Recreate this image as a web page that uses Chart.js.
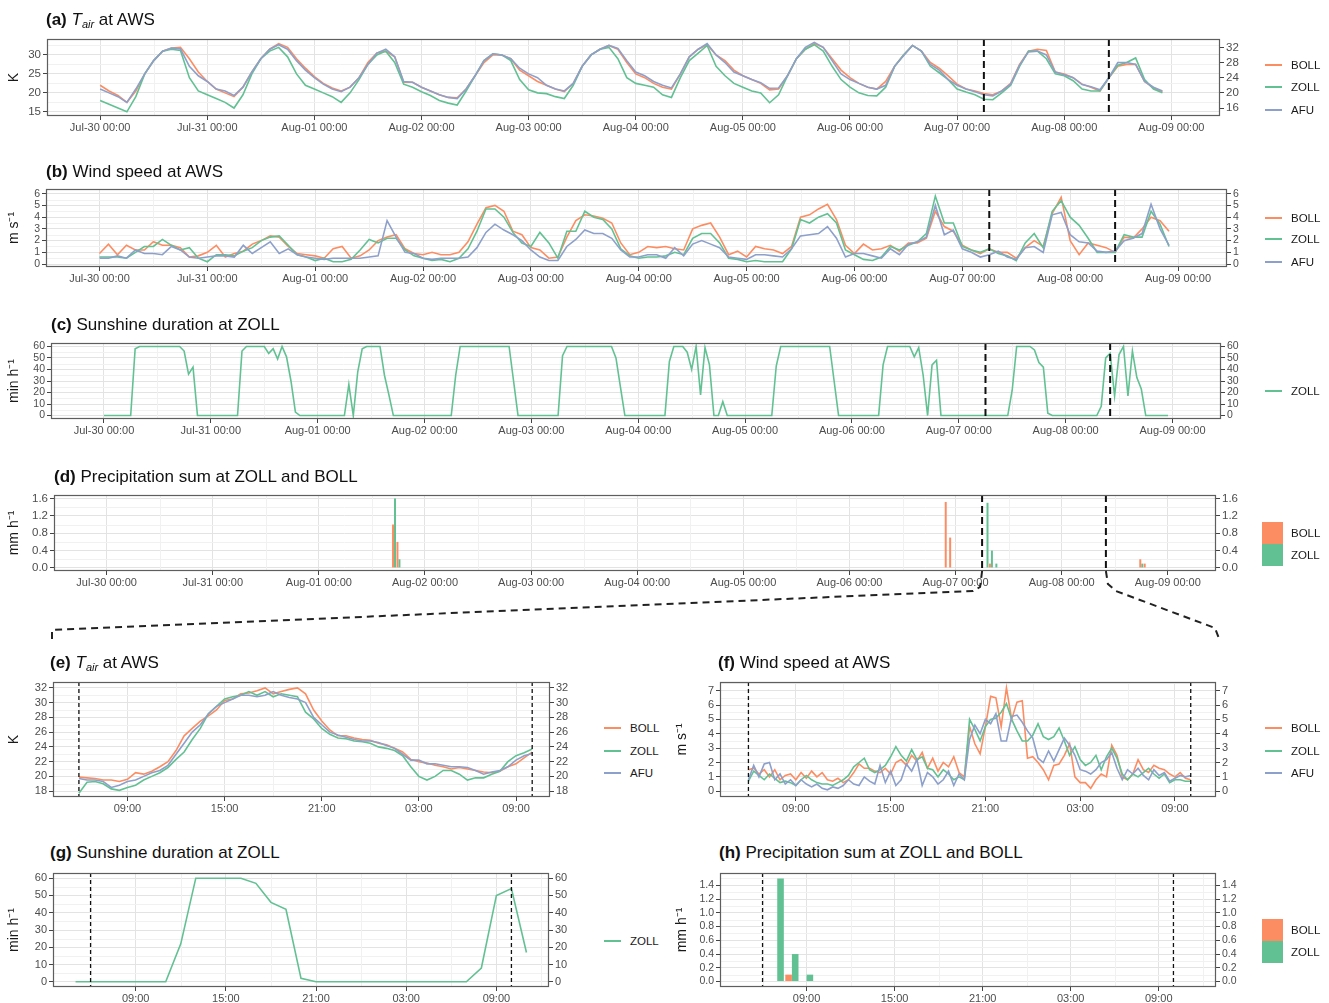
<!DOCTYPE html>
<html>
<head>
<meta charset="utf-8">
<script src="https://cdn.jsdelivr.net/npm/chart.js@4.4.1/dist/chart.umd.min.js"></script>
<style>
  body { margin: 0; background: #fff; font-family: "Liberation Sans", Arial, sans-serif; }
  #page { position: relative; width: 1329px; height: 1003px; overflow: hidden; background: #fff; }
  #page canvas { position: absolute; }
  .ttl { position: absolute; font-size: 17px; line-height: 20px; color: #111; white-space: nowrap; }
  .ttl sub { font-size: 11px; vertical-align: -3px; }
  .sw { position: absolute; }
  .lt { position: absolute; font-size: 11.5px; line-height: 16px; color: #1a1a1a; white-space: nowrap; }
</style>
</head>
<body>
<div id="page"></div>
<script>
// ---- data (top panels: hours since Jul-30 00:00) ----
const dayLabels = ['Jul-30 00:00', 'Jul-31 00:00', 'Aug-01 00:00', 'Aug-02 00:00', 'Aug-03 00:00',
  'Aug-04 00:00', 'Aug-05 00:00', 'Aug-06 00:00', 'Aug-07 00:00', 'Aug-08 00:00', 'Aug-09 00:00'];
const zoomLabels = ['09:00', '15:00', '21:00', '03:00', '09:00'];
const zoomStart = 198;   // Aug-07 06:00
const zoomEnd = 226;     // Aug-08 10:00

// 2-hourly air temperature
const tairBoll = [
  22,20.5,19.3,17.5,20.5,25,28.5,31,31.8,32,29,25.5,
  23,21,20,19,21.5,25.5,29,31.5,33,32,29,26.5,
  24.3,22.5,21.3,20.5,21.5,24,28,30.5,31,29.5,22.8,22.8,
  21.5,20.5,19.5,18.8,18.7,21,24.5,28,30,30,29,26,
  24.5,23,22,21,20.3,22.5,27,30,31.5,32.5,31.5,28,
  25,24,22.5,21.5,21,25,29.5,31.5,32.7,30,28.5,26,
  24.5,23.5,22.5,20.8,21,24.5,29,31.5,33,32,29,26,
  24,22.5,21.5,21,23,27,30,32.5,31,28,26.5,24.5,
  22.3,21,20.5,19.8,19.5,20.5,22.5,27.5,31,31.5,31.2,25.5,
  25,24,22.3,21.5,20.5,24,27,27.5,27.5,23,21.3,20.3];
const tairZoll = [
  18,17,16,15,19,25,28.5,31,31.5,31.2,24,20.5,
  19.5,18.5,17.5,16,19.5,25,29,31,32,29.5,25,22,
  21,20,19,17.5,20,23.5,27.5,30,31,28,22.3,21.5,
  20.3,19.3,18,17.3,16.8,20.5,24.5,28.5,30.3,30,28.5,23.5,
  20.8,20,19.8,19,18.5,22,27,30,31.5,32,29,24,
  22.5,22,21.5,19.5,18.8,24,28.5,30.5,32.5,27,24.5,22.5,
  21.5,20.5,20,17.4,19.5,24.5,29,31.5,32.7,31,27,23.5,
  21.5,20,19.3,19.2,21.5,27,30,32.5,31,27,25.3,23.5,
  21,20.2,19.5,18.3,18.2,20,22,27,31,31,29,25,
  24.5,23.2,21,20.5,20.5,24,27.3,28,29.2,23.5,21,20];
const tairAfu = [
  21,20,19,17.5,21,25,28.5,31,31.8,31.6,27,24.5,
  23,21,20.5,19.3,21.5,25.5,29,31.5,32.7,31.5,28.5,26,
  24,22.3,21,20.3,21.5,24,27.5,30.5,31.5,29.5,23,22.8,
  21.5,20.5,19.5,18.8,18.5,21,24.5,28.5,30.3,30,29,26.5,
  25,24,22,21,20.5,22.5,27,30,31.5,32.5,31.7,28.5,
  25.5,24.5,23,22,21.3,25,29.5,31.5,33,30,28,25.5,
  24.5,23.5,22.7,21.2,21.3,24.5,29,32,33.3,32,28.5,25,
  23.5,22.5,21.5,21,22,27,29.8,32.5,31,27.5,26,23.5,
  22,21,20.3,19.5,19.2,20.5,22.3,27.3,30.8,31,30,25.5,
  24.8,24,22.2,21.6,20.8,24,28,28,27.5,23,21.5,20.5];

// 2-hourly wind speed
const windBoll = [
  0.9,1.7,0.8,1.6,1.2,1.2,1.9,1.6,1.6,1.4,0.6,0.7,
  1.0,1.6,0.6,0.9,1.1,1.7,2.0,2.4,2.3,1.5,0.9,0.8,
  0.7,0.5,1.3,1.5,0.5,0.7,1.2,2.0,2.3,2.5,1.3,0.9,
  0.8,1.0,0.8,0.8,1.0,1.9,3.4,4.8,5.0,4.5,2.8,2.5,
  1.4,1.2,0.5,0.6,2.3,3.7,4.2,4.1,3.9,3.5,1.8,0.8,
  1.0,1.5,1.4,1.5,1.3,1.2,3.0,3.3,3.5,2.3,0.8,1.1,
  0.6,1.5,1.3,1.2,0.9,1.5,4.0,4.2,4.7,5.1,3.8,1.6,
  0.9,1.7,1.2,1.3,1.6,1.1,1.8,1.8,2.2,4.5,3.2,2.8,
  1.6,1.2,0.9,1.3,1.0,1.0,0.5,1.4,2.0,1.5,4.3,5.7,
  2.0,0.8,1.8,1.6,1.4,1.0,2.3,2.2,3.0,4.0,3.7,2.8];
const windZoll = [
  0.6,0.6,0.6,0.5,1.0,1.5,1.5,2.1,1.6,1.2,1.4,0.5,
  0.2,0.8,0.8,0.7,1.1,1.4,2.0,2.3,2.4,1.6,0.8,0.6,
  0.3,0.5,0.2,0.2,0.4,1.2,2.1,1.8,2.2,2.2,1.2,0.7,
  0.5,0.3,0.4,0.2,0.5,1.3,2.8,4.7,4.7,4.0,2.7,1.8,
  1.5,2.7,1.8,0.5,2.8,2.8,4.5,4.0,3.8,3.0,1.3,0.7,
  0.5,0.6,0.6,0.7,1.0,0.8,2.2,2.6,2.6,1.8,0.5,0.4,
  0.2,0.3,0.2,0.2,0.2,1.3,3.8,3.5,4.0,4.3,3.5,1.2,
  0.8,0.4,0.3,0.6,1.5,1.2,1.6,1.9,2.6,5.8,3.5,3.5,
  1.5,1.2,1.0,1.3,0.9,0.7,0.3,1.8,2.6,1.4,4.5,5.4,
  4.0,3.3,2.2,1.0,1.0,1.0,2.5,2.3,2.3,4.5,3.4,1.5];
const windAfu = [
  0.5,0.5,0.7,0.5,1.2,0.9,0.9,0.8,1.5,1.2,0.6,0.5,
  0.6,0.7,0.7,0.6,1.6,0.9,1.4,1.9,0.9,1.3,0.8,0.6,
  0.5,0.4,0.5,0.5,0.5,0.5,0.6,0.7,3.7,2.3,1.0,0.9,
  0.5,0.4,0.5,0.5,0.5,0.6,1.4,2.7,3.4,2.9,2.5,2.0,
  1.2,0.6,0.3,0.3,1.5,2.1,2.9,2.6,2.6,2.2,1.2,0.6,
  0.6,0.8,0.8,0.5,1.4,0.7,1.7,2.0,1.7,1.4,0.6,0.5,
  0.4,0.8,0.8,0.7,0.6,1.3,2.4,2.5,2.6,3.2,2.2,0.6,
  0.9,0.9,0.7,0.5,1.3,0.8,1.7,1.9,2.3,5.0,2.5,2.9,
  1.3,1.0,0.6,0.8,1.1,0.6,0.4,1.4,1.5,1.0,4.2,4.4,
  2.5,1.9,1.8,1.1,1.0,1.1,2.0,2.2,2.6,5.1,3.0,1.6];

// hourly sunshine duration at ZOLL (min per hour)
const sunZoll = [
  0,0,0,0,0,0,0,58,60,60,60,60,60,60,60,60,60,60,56,36,42,0,0,0,
  0,0,0,0,0,0,0,56,60,60,60,60,60,54,58,49,60,51,30,3,0,0,0,0,
  0,0,0,0,0,0,0,27,0,38,58,60,60,60,60,35,18,0,0,0,0,0,0,0,
  0,0,0,0,0,0,0,35,60,60,60,60,60,60,60,60,60,60,60,60,30,0,0,0,
  0,0,0,0,0,0,0,52,60,60,60,60,60,60,60,60,60,60,60,50,25,0,0,0,
  0,0,0,0,0,0,0,47,60,60,60,55,40,60,18,59,44,0,0,12,0,0,0,0,
  0,0,0,0,0,0,0,43,60,60,60,60,60,60,60,60,60,60,60,60,30,0,0,0,
  0,0,0,0,0,0,0,44,60,60,60,60,60,60,51,59,35,0,44,48,0,0,0,0,
  0,0,0,0,0,0,0,0,0,0,0,0,22,60,60,60,60,57,46,42,2,0,0,0,
  0,0,0,0,0,0,0,0,8,50,54,17,53,60,17,56,33,23,0,0,0,0,0,0];

// hourly precipitation (only hours with rain at either station)
const rainHours = [65, 66, 190, 191, 199, 200, 201, 234, 235];
const rainBoll = [1.0, 0.6, 1.52, 0.7, 0, 0.1, 0, 0.2, 0.1];
const rainZoll = [1.6, 0.2, 0, 0, 1.5, 0.4, 0.1, 0.1, 0];

// ---- zoomed period, Aug-07 06:00 to Aug-08 10:00 ----
// 30-min air temperature
const tairZoomBoll = [19.9,19.8,19.7,19.5,19.5,19.3,19.6,20.5,20.3,20.7,21.3,22.0,23.5,25.5,26.5,27.5,28.2,29.0,
  30.3,30.5,31.2,31.3,31.6,32.0,31.2,31.5,31.8,32.0,31.2,29.0,27.5,26.3,25.5,25.5,25.2,25.0,
  24.9,24.5,24.3,23.8,23.3,22.3,22.0,21.8,21.5,21.3,21.0,21.2,21.0,20.8,20.6,20.5,20.7,21.3,21.7,22.5,23.3];
const tairZoomZoll = [17.7,19.2,19.3,19.0,18.3,18.1,18.5,18.8,19.5,20.0,20.5,21.2,22.3,23.3,25.0,26.5,28.5,29.5,
  30.5,30.8,31.0,31.5,31.0,31.5,30.8,31.2,31.0,30.8,28.7,27.8,26.5,25.7,25.2,25.1,24.8,24.7,
  24.5,24.0,23.8,23.5,22.8,21.3,20.0,19.5,20.0,20.8,20.8,20.3,19.5,19.8,19.8,20.3,20.7,22.0,22.8,23.2,23.7];
const tairZoomAfu = [19.7,19.5,19.5,19.3,18.5,18.8,19.3,19.5,20.0,20.5,20.8,21.5,23.0,24.5,26.0,27.0,28.5,29.5,
  30.0,30.5,31.0,31.0,30.8,31.0,31.5,31.0,30.7,30.5,30.0,28.0,27.0,26.0,25.6,25.3,25.0,24.8,
  24.8,24.6,24.2,23.8,23.0,22.2,22.2,21.7,21.7,21.5,21.3,21.3,21.2,20.8,20.3,20.6,20.8,21.3,22.2,22.8,23.1];
// 20-min wind speed
const windZoomBoll = [1.5,1.6,1.2, 1.5,1.0,1.5, 0.8,1.1,1.2, 0.8,1.3,0.9, 1.4,1.0,1.3, 0.8,0.7,0.9, 0.6,0.8,1.3,
  1.9,1.6,1.6, 1.4,1.3,1.6, 1.2,2.0,2.2, 1.8,2.5,2.1, 2.7,1.6,2.3, 1.4,2.0,1.7, 2.4,1.3,1.0,
  4.5,3.3,2.6, 4.5,6.6,6.5, 4.5,7.2,5.0, 6.2,6.3,2.3, 2.4,2.0,1.5, 0.8,1.8,1.9, 2.5,3.3,1.0,
  0.6,0.6,0.2, 0.8,1.2,1.0, 3.2,2.5,1.0, 0.8,1.2,2.2, 1.5,1.3,1.8, 1.6,1.5,1.2, 1.0,1.3,0.9, 0.8];
const windZoomZoll = [0.7,1.4,1.1, 0.8,1.2,0.9, 0.6,0.7,0.6, 0.4,0.8,1.1, 0.8,0.6,0.5, 0.5,0.4,0.6, 0.8,1.1,1.7,
  2.0,2.3,1.5, 1.3,1.5,1.8, 2.4,3.1,2.5, 2.1,2.9,2.2, 2.4,1.6,1.5, 1.0,1.5,1.2, 0.8,1.0,0.8,
  5.0,4.3,3.5, 4.5,5.0,5.1, 5.5,6.1,5.0, 4.2,3.5,3.5, 3.9,4.7,3.8, 3.6,3.8,4.4, 3.5,2.5,3.1,
  2.2,1.8,2.0, 2.5,1.5,2.4, 3.0,2.3,1.2, 0.8,1.2,1.0, 1.3,1.6,1.2, 0.9,1.2,0.6, 0.8,0.8,0.7, 0.7];
const windZoomAfu = [0.8,1.8,1.0, 1.9,2.0,0.8, 1.2,0.5,0.8, 0.4,0.8,0.5, 0.3,0.5,0.2, 0.1,0.3,0.2, 0.4,0.8,0.5,
  0.4,1.0,0.7, 0.5,1.8,0.6, 1.4,0.4,0.8, 1.9,1.4,2.2, 0.4,1.3,1.0, 0.5,0.8,1.4, 0.4,1.2,0.8,
  3.6,4.6,4.0, 5.0,4.7,5.4, 3.5,3.5,5.2, 5.3,4.8,4.2, 3.7,2.3,2.0, 2.8,2.1,2.9, 3.7,3.2,2.5,
  1.5,1.4,1.2, 1.5,2.0,2.2, 2.7,1.6,0.8, 1.5,1.2,1.6, 1.1,0.8,1.5, 1.1,1.3,0.7, 0.9,1.1,1.0, 1.1];

const C = { BOLL: '#fc8d62', ZOLL: '#62c193', AFU: '#8da0cb' };
Chart.defaults.font.family = '"Liberation Sans", Arial, sans-serif';

const page = document.getElementById('page');

// series helpers
const series = (vals, start, step) => vals.map((v, i) => ({ x: start + i * step, y: v }));
const line = (name, pts) => ({ label: name, data: pts, borderColor: C[name], borderWidth: 1.6,
  pointRadius: 0, tension: 0, fill: false, order: { BOLL: 2, ZOLL: 1, AFU: 0 }[name] });
const bars = (name, hours, vals) => ({ label: name, data: hours.map((h, i) => ({ x: h, y: vals[i] })),
  backgroundColor: C[name], categoryPercentage: 0.9, barPercentage: 1.0 });

function minors(ticks, lo, hi) {
  const st = ticks[1] - ticks[0], out = [];
  for (let v = ticks[0] - st * 20 + st / 2; v <= hi; v += st) if (v >= lo) out.push(v);
  return out;
}

function makePanel(p) {
  const w = Math.round(p.box.r - p.box.l) + p.ml + p.mr;
  const h = Math.round(p.box.b - p.box.t) + p.mt + p.mb;
  const left = Math.round(p.box.l - p.ml), top = Math.round(p.box.t - p.mt);
  const cv = document.createElement('canvas');
  cv.width = w; cv.height = h;
  cv.style.left = left + 'px'; cv.style.top = top + 'px';
  cv.style.width = w + 'px'; cv.style.height = h + 'px';
  page.appendChild(cv);

  const xMinor = minors(p.xTicks, p.xMin, p.xMax);
  const yMinor = minors(p.yTicks, p.yMin, p.yMax);
  const gg = {
    id: 'gg',
    beforeDatasetsDraw(chart) {
      const { ctx, chartArea: a, scales } = chart;
      ctx.save();
      ctx.strokeStyle = '#f1f1f1';
      ctx.lineWidth = 1;
      ctx.beginPath();
      xMinor.forEach(v => { const px = Math.round(scales.x.getPixelForValue(v)) + 0.5; ctx.moveTo(px, a.top); ctx.lineTo(px, a.bottom); });
      yMinor.forEach(v => { const py = Math.round(scales.y.getPixelForValue(v)) + 0.5; ctx.moveTo(a.left, py); ctx.lineTo(a.right, py); });
      ctx.stroke();
      ctx.restore();
    },
    afterDatasetsDraw(chart) {
      const { ctx, chartArea: a, scales } = chart;
      ctx.save();
      ctx.strokeStyle = '#111';
      ctx.lineWidth = p.dashW;
      ctx.setLineDash(p.dash);
      p.vlines.forEach(v => {
        const px = scales.x.getPixelForValue(v);
        ctx.beginPath(); ctx.moveTo(px, a.top); ctx.lineTo(px, a.bottom); ctx.stroke();
      });
      ctx.setLineDash([]);
      ctx.strokeStyle = '#5e5e5e';
      ctx.lineWidth = 1.2;
      ctx.strokeRect(a.left + 0.5, a.top + 0.5, a.right - a.left - 1, a.bottom - a.top - 1);
      ctx.restore();
    }
  };

  const tickCol = '#4d4d4d';
  const fmt = v => p.yFmt ? v.toFixed(1) : v;
  const yFont = { size: p.yFont || 11.5 };
  const chart = new Chart(cv, {
    type: p.type,
    data: { datasets: p.datasets },
    options: {
      responsive: false, animation: false, devicePixelRatio: 1,
      layout: { padding: { top: p.mt, left: 0, right: 0, bottom: 0 } },
      plugins: { legend: { display: false }, tooltip: { enabled: false } },
      scales: {
        x: {
          type: 'linear', min: p.xMin, max: p.xMax, offset: false,
          afterBuildTicks: s => { s.ticks = p.xTicks.map(v => ({ value: v })); },
          afterFit: s => { s.height = p.mb; },
          ticks: { color: tickCol, font: { size: 11 }, maxRotation: 0, autoSkip: false, padding: 1,
            callback: (v, i) => p.xLabels[i] },
          grid: { offset: false, color: '#e3e3e3', lineWidth: 1, tickLength: 4, tickColor: '#444' },
          border: { display: false }
        },
        y: {
          type: 'linear', position: 'left', min: p.yMin, max: p.yMax,
          afterBuildTicks: s => { s.ticks = p.yTicks.map(v => ({ value: v })); },
          afterFit: s => { s.width = p.ml; },
          ticks: { color: tickCol, font: yFont, padding: 2, autoSkip: false, callback: fmt },
          grid: { offset: false, color: '#e3e3e3', lineWidth: 1, tickLength: 4, tickColor: '#444' },
          border: { display: false },
          title: { display: true, text: p.yTitle, color: '#1a1a1a', font: { size: 14 }, padding: { top: 6, bottom: 0 } }
        },
        y2: {
          type: 'linear', position: 'right', min: p.yMin, max: p.yMax,
          afterBuildTicks: s => { s.ticks = p.y2Ticks.map(v => ({ value: v })); },
          afterFit: s => { s.width = p.mr; },
          ticks: { color: tickCol, font: yFont, padding: 2, autoSkip: false, callback: fmt },
          grid: { offset: false, drawOnChartArea: false, tickLength: 4, tickColor: '#444' },
          border: { display: false }
        }
      }
    },
    plugins: [gg]
  });
  return { chart, left, top };
}

function title(html, x, y) {
  const d = document.createElement('div');
  d.className = 'ttl'; d.innerHTML = html;
  d.style.left = x + 'px'; d.style.top = (y - 10) + 'px';
  page.appendChild(d);
}

function legend(names, x, ys, square) {
  names.forEach((n, i) => {
    const sw = document.createElement('div');
    sw.className = 'sw';
    sw.style.background = C[n];
    sw.style.left = x + 'px';
    if (square) { sw.style.top = (ys[i] - 11) + 'px'; sw.style.width = '21px'; sw.style.height = '22px'; }
    else { sw.style.top = (ys[i] - 1) + 'px'; sw.style.width = '17px'; sw.style.height = '2px'; }
    page.appendChild(sw);
    const t = document.createElement('div');
    t.className = 'lt'; t.textContent = n;
    t.style.left = (x + (square ? 29 : 26)) + 'px'; t.style.top = (ys[i] - 8) + 'px';
    page.appendChild(t);
  });
}

const dayTicks = dayLabels.map((_, i) => i * 24);
const zoomTicks = [9, 15, 21, 27, 33];
const topX = { xMin: -11.9, xMax: 250.9, xTicks: dayTicks, xLabels: dayLabels, vlines: [zoomStart, zoomEnd], dash: [7, 4], dashW: 2 };
const botX = { xTicks: zoomTicks, xLabels: zoomLabels, vlines: [zoomStart - 192, zoomEnd - 192], dash: [4, 3], dashW: 1.3 };

// (a)
makePanel(Object.assign({}, topX, {
  type: 'line', box: { l: 47, r: 1220, t: 39, b: 116 }, ml: 47, mr: 40, mt: 10, mb: 20,
  yMin: 13.9, yMax: 34.2, yTicks: [15, 20, 25, 30], y2Ticks: [16, 20, 24, 28, 32], yTitle: 'K',
  datasets: [line('BOLL', series(tairBoll, 0, 2)), line('ZOLL', series(tairZoll, 0, 2)), line('AFU', series(tairAfu, 0, 2))]
}));
// (b)
makePanel(Object.assign({}, topX, {
  type: 'line', box: { l: 46, r: 1227, t: 189, b: 267 }, ml: 46, mr: 40, mt: 10, mb: 20, yFont: 10.5,
  yMin: -0.25, yMax: 6.4, yTicks: [0, 1, 2, 3, 4, 5, 6], y2Ticks: [0, 1, 2, 3, 4, 5, 6], yTitle: 'm s\u207B\u00B9',
  datasets: [line('BOLL', series(windBoll, 0, 2)), line('ZOLL', series(windZoll, 0, 2)), line('AFU', series(windAfu, 0, 2))]
}));
// (c)
makePanel(Object.assign({}, topX, {
  type: 'line', box: { l: 51, r: 1221, t: 343, b: 419 }, ml: 51, mr: 40, mt: 10, mb: 20, yFont: 10.5,
  yMin: -3, yMax: 63, yTicks: [0, 10, 20, 30, 40, 50, 60], y2Ticks: [0, 10, 20, 30, 40, 50, 60], yTitle: 'min h\u207B\u00B9',
  datasets: [line('ZOLL', series(sunZoll, 0, 1))]
}));
// (d)
const pd = makePanel(Object.assign({}, topX, {
  type: 'bar', box: { l: 54, r: 1216, t: 495, b: 571 }, ml: 54, mr: 40, mt: 10, mb: 20,
  yMin: -0.07, yMax: 1.68, yTicks: [0, 0.4, 0.8, 1.2, 1.6], y2Ticks: [0, 0.4, 0.8, 1.2, 1.6], yFmt: true, yTitle: 'mm h\u207B\u00B9',
  datasets: [bars('BOLL', rainHours, rainBoll), bars('ZOLL', rainHours, rainZoll)]
}));

// zoomed panels: hours since Aug-07 00:00
const zBase = 192;
// (e)
const pe = makePanel(Object.assign({}, botX, {
  type: 'line', box: { l: 53, r: 550, t: 682, b: 797 }, ml: 53, mr: 40, mt: 10, mb: 20, yFont: 11,
  xMin: 4.4, xMax: 35.1,
  yMin: 17.2, yMax: 32.8, yTicks: [18, 20, 22, 24, 26, 28, 30, 32], y2Ticks: [18, 20, 22, 24, 26, 28, 30, 32], yTitle: 'K',
  datasets: [line('BOLL', series(tairZoomBoll, 6, 0.5)), line('ZOLL', series(tairZoomZoll, 6, 0.5)), line('AFU', series(tairZoomAfu, 6, 0.5))]
}));
// (f)
const pf = makePanel(Object.assign({}, botX, {
  type: 'line', box: { l: 720, r: 1216, t: 682, b: 797 }, ml: 52, mr: 40, mt: 10, mb: 20, yFont: 11,
  xMin: 4.2, xMax: 35.6,
  yMin: -0.4, yMax: 7.6, yTicks: [0, 1, 2, 3, 4, 5, 6, 7], y2Ticks: [0, 1, 2, 3, 4, 5, 6, 7], yTitle: 'm s\u207B\u00B9',
  datasets: [line('BOLL', series(windZoomBoll, 6, 1 / 3)), line('ZOLL', series(windZoomZoll, 6, 1 / 3)), line('AFU', series(windZoomAfu, 6, 1 / 3))]
}));
// (g)
makePanel(Object.assign({}, botX, {
  type: 'line', box: { l: 53, r: 549, t: 873, b: 987 }, ml: 53, mr: 40, mt: 10, mb: 16, yFont: 11,
  xMin: 3.5, xMax: 36.5,
  yMin: -3, yMax: 63, yTicks: [0, 10, 20, 30, 40, 50, 60], y2Ticks: [0, 10, 20, 30, 40, 50, 60], yTitle: 'min h\u207B\u00B9',
  datasets: [line('ZOLL', series(sunZoll.slice(zBase + 5, zBase + 36), 5, 1))]
}));
// (h)
const zRain = rainHours.map((h, i) => i).filter(i => rainHours[i] >= zBase && rainHours[i] <= zBase + 36);
makePanel(Object.assign({}, botX, {
  type: 'bar', box: { l: 720, r: 1216, t: 873, b: 987 }, ml: 52, mr: 40, mt: 10, mb: 16, yFont: 10.5,
  xMin: 3.1, xMax: 36.9,
  yMin: -0.08, yMax: 1.58, yTicks: [0, 0.2, 0.4, 0.6, 0.8, 1.0, 1.2, 1.4], y2Ticks: [0, 0.2, 0.4, 0.6, 0.8, 1.0, 1.2, 1.4], yFmt: true, yTitle: 'mm h\u207B\u00B9',
  datasets: [bars('BOLL', zRain.map(i => rainHours[i] - zBase), zRain.map(i => rainBoll[i])),
             bars('ZOLL', zRain.map(i => rainHours[i] - zBase), zRain.map(i => rainZoll[i]))]
}));

// titles
const tair = l => '<b>(' + l + ')</b> <i>T</i><sub><i>air</i></sub> at AWS';
title(tair('a'), 46, 20);
title('<b>(b)</b> Wind speed at AWS', 46, 172);
title('<b>(c)</b> Sunshine duration at ZOLL', 51, 325);
title('<b>(d)</b> Precipitation sum at ZOLL and BOLL', 54, 477);
title(tair('e'), 50, 663);
title('<b>(f)</b> Wind speed at AWS', 718, 663);
title('<b>(g)</b> Sunshine duration at ZOLL', 50, 853);
title('<b>(h)</b> Precipitation sum at ZOLL and BOLL', 719, 853);

// legends
legend(['BOLL', 'ZOLL', 'AFU'], 1265, [65, 87, 110]);
legend(['BOLL', 'ZOLL', 'AFU'], 1265, [218, 239, 262]);
legend(['ZOLL'], 1265, [391]);
legend(['BOLL', 'ZOLL'], 1262, [533, 555], true);
legend(['BOLL', 'ZOLL', 'AFU'], 604, [728, 751, 773]);
legend(['BOLL', 'ZOLL', 'AFU'], 1265, [728, 751, 773]);
legend(['ZOLL'], 604, [941]);
legend(['BOLL', 'ZOLL'], 1262, [930, 952], true);

// dashed connectors from (d) down to the zoomed panels
(function connectors() {
  const ov = document.createElement('canvas');
  ov.width = 1329; ov.height = 1003;
  ov.style.left = '0px'; ov.style.top = '0px'; ov.style.zIndex = 5; ov.style.pointerEvents = 'none';
  page.appendChild(ov);
  const g = ov.getContext('2d');
  const dc = pd.chart;
  const x1 = pd.left + dc.scales.x.getPixelForValue(zoomStart);
  const x2 = pd.left + dc.scales.x.getPixelForValue(zoomEnd);
  const yB = pd.top + dc.chartArea.bottom;
  const eL = pe.left + pe.chart.chartArea.left - 1;
  const fR = pf.left + pf.chart.chartArea.right + 4;
  g.strokeStyle = '#222'; g.lineWidth = 2; g.setLineDash([7, 5]);
  g.beginPath();
  g.moveTo(x1, yB); g.lineTo(x1 - 2, yB + 16); g.lineTo(x1 - 9, yB + 20); g.lineTo(eL, yB + 59); g.lineTo(eL, yB + 68);
  g.stroke();
  g.beginPath();
  g.moveTo(x2, yB); g.lineTo(x2 + 2, yB + 13); g.lineTo(x2 + 10, yB + 20); g.lineTo(fR - 5, yB + 57); g.lineTo(fR, yB + 70);
  g.stroke();
})();
</script>
</body>
</html>
